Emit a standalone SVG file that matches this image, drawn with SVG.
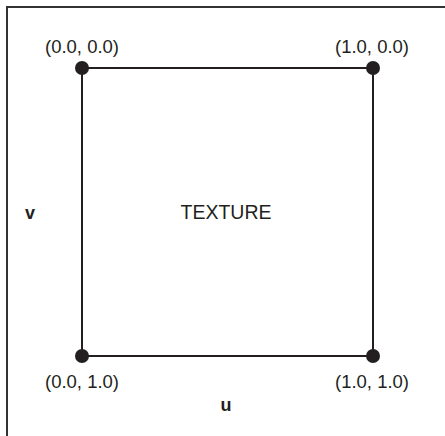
<svg xmlns="http://www.w3.org/2000/svg" width="445" height="436" viewBox="0 0 445 436">
<style>
.lbl{font-family:"Liberation Sans",Arial,sans-serif;font-size:18.5px;fill:#231f20;text-anchor:middle}
.tx{font-family:"Liberation Sans",Arial,sans-serif;font-size:19.5px;fill:#231f20;text-anchor:middle}
.ax{font-family:"Liberation Sans",Arial,sans-serif;font-size:18px;font-weight:bold;fill:#231f20;text-anchor:middle}
.edge{stroke:#231f20;stroke-width:2;fill:none}
.dot{fill:#231f20}
</style>
<rect width="445" height="436" fill="#fff"/>
<path d="M7 436 V7 H445" fill="none" stroke="#333" stroke-width="2"/>
<g id="connectors">
<line class="edge" x1="82" y1="68" x2="373" y2="68"/>
<line class="edge" x1="373" y1="68" x2="373" y2="356"/>
<line class="edge" x1="373" y1="356" x2="82" y2="356"/>
<line class="edge" x1="82" y1="356" x2="82" y2="68"/>
</g>
<g id="p00"><circle class="dot" cx="82" cy="68" r="7"/><text class="lbl" x="82" y="53">(0.0, 0.0)</text></g>
<g id="p10"><circle class="dot" cx="373" cy="68" r="7"/><text class="lbl" x="372" y="53">(1.0, 0.0)</text></g>
<g id="p01"><circle class="dot" cx="82" cy="356" r="7"/><text class="lbl" x="82" y="388">(0.0, 1.0)</text></g>
<g id="p11"><circle class="dot" cx="373" cy="356" r="7"/><text class="lbl" x="372" y="388">(1.0, 1.0)</text></g>
<g id="texture"><text class="tx" x="226" y="219">TEXTURE</text></g>
<g id="v"><text class="ax" x="30" y="219">v</text></g>
<g id="u"><text class="ax" x="226" y="411">u</text></g>
</svg>
